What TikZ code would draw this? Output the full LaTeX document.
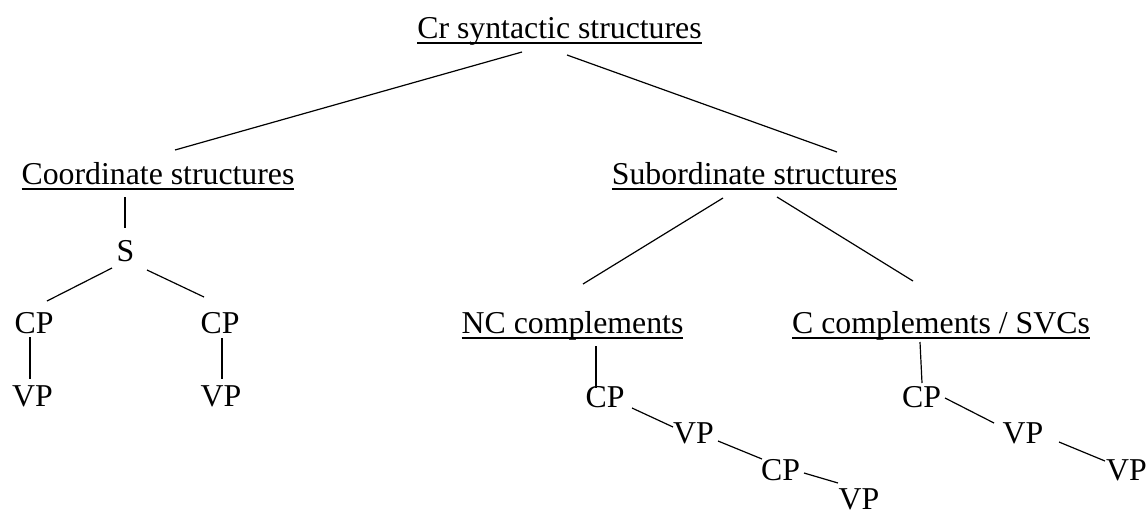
\documentclass[tikz,border=0pt]{standalone}
\usepackage{fontspec}
\setmainfont{Liberation Serif}
\usepackage{tikz}

\begin{document}
\begin{tikzpicture}[x=1pt,y=-1pt,
        every node/.style={inner sep=0pt,outer sep=0pt,anchor=base,
            font=\fontsize{31.8}{38}\selectfont},
        every path/.style={line width=1.2pt}]

                \useasboundingbox (0,0) rectangle (1148,515);

                \node (root) at (559.5,38) {Cr syntactic structures};
                \node (coord) at (158,184) {Coordinate structures};
                \node (subord) at (754.5,184) {Subordinate structures};

                \node (s) at (125.5,261) {S};
                \node (cpa) at (34,333) {CP};
                \node (cpb) at (220,333) {CP};
                \node (vpa) at (32.5,406) {VP};
                \node (vpb) at (221,406) {VP};

                \node (nc) at (572.5,333) {NC complements};
                \node (nccpa) at (605,407) {CP};
                \node (ncvpa) at (693.5,443) {VP};
                \node (nccpb) at (780.5,480) {CP};
                \node (ncvpb) at (859,509) {VP};

                \node (cc) at (941,333) {C complements / SVCs};
                \node (cccp) at (921.5,407) {CP};
                \node (ccvpa) at (1023,443) {VP};
                \node (ccvpb) at (1126.5,480) {VP};

                \foreach \n in {root,coord,subord,nc,cc}
                    \draw[line width=1.8pt] ([yshift=-5pt]\n.base west) -- ([yshift=-5pt]\n.base east);

                \draw ([shift={(-37.5,14)}]root.base) -- ([shift={(17,-34)}]coord.base);
                \draw ([shift={(7.5,17)}]root.base) -- ([shift={(82.5,-32)}]subord.base);

                \draw ([shift={(-33,13)}]coord.base) -- ([shift={(-0.5,-33)}]s.base);
                \draw ([shift={(-13.5,7)}]s.base) -- ([shift={(13,-32)}]cpa.base);
                \draw ([shift={(21.5,9)}]s.base) -- ([shift={(-16,-36)}]cpb.base);
                \draw ([shift={(-4,4)}]cpa.base) -- ([shift={(-2.5,-27)}]vpa.base);
                \draw ([shift={(2,5)}]cpb.base) -- ([shift={(1,-27)}]vpb.base);

                \draw ([shift={(-31.5,14)}]subord.base) -- ([shift={(10.5,-49)}]nc.base);
                \draw ([shift={(22.5,13)}]subord.base) -- ([shift={(-28,-52)}]cc.base);

                \draw ([shift={(23.5,13)}]nc.base) -- ([shift={(-9,-19)}]nccpa.base);
                \draw ([shift={(27,1)}]nccpa.base) -- ([shift={(-20.5,-16)}]ncvpa.base);
                \draw ([shift={(24.5,-2)}]ncvpa.base) -- ([shift={(-18.5,-21)}]nccpb.base);
                \draw ([shift={(23.5,-7)}]nccpb.base) -- ([shift={(-21,-26)}]ncvpb.base);

                \draw ([shift={(-21,9)}]cc.base) -- ([shift={(0.5,-24)}]cccp.base);
                \draw ([shift={(23.5,-9)}]cccp.base) -- ([shift={(-29,-20)}]ccvpa.base);
                \draw ([shift={(36,-1)}]ccvpa.base) -- ([shift={(-21.5,-19)}]ccvpb.base);

            \end{tikzpicture}
\end{document}
